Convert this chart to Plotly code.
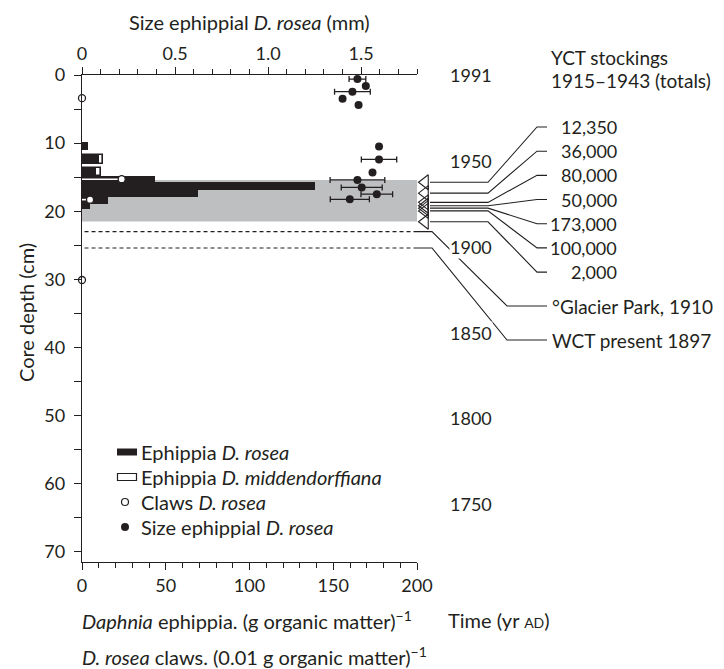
import plotly.graph_objects as go

# ---- values ----
# ephippia counts per depth slice (core depth in cm), (g organic matter)^-1
bin_top = [9.8, 11.7, 13.7, 14.9, 15.65, 16.9, 17.85, 18.9]
bin_bottom = [11.0, 13.0, 14.9, 15.65, 16.9, 17.85, 18.9, 19.6]
eph_rosea = [3.8, 10.2, 8.2, 43.6, 139, 69, 15.7, 4.8]
eph_midd = [0, 12.6, 11.3, 0, 0, 0, 0, 0]

# D. rosea claws, (0.01 g organic matter)^-1
claw_depth = [3.4, 15.3, 18.3, 30.1]
claw_value = [0, 23.7, 4.8, 0]

# size of D. rosea ephippia (mm), mean and error
size_depth = [0.6, 1.6, 2.45, 3.5, 4.4, 10.5, 12.4, 14.3, 15.4, 16.5, 17.5, 18.25]
size_mm = [1.48, 1.525, 1.453, 1.40, 1.486, 1.596, 1.596, 1.561, 1.48, 1.503, 1.584, 1.439]
size_err = [0.045, 0, 0.096, 0, 0, 0, 0.095, 0, 0.147, 0.11, 0.085, 0.105]

# stocking period band and dated horizons (cm)
band = [15.4, 21.5]
horizon_depth = [23.0, 25.4]
horizon_label = ["\u00b0Glacier Park, 1910", "WCT present 1897"]

# YCT stockings
stock_depth = [15.75, 17.35, 18.7, 19.2, 19.55, 19.95, 21.55]
stock_label = ["12,350", "36,000", "80,000", "50,000", "173,000", "100,000", "2,000"]

# time scale
year_depth = [0, 12.6, 25.2, 37.9, 50.3, 63.0]
year_text = ["1991", "1950", "1900", "1850", "1800", "1750"]

depth_ticks = [0, 10, 20, 30, 40, 50, 60, 70]
eph_ticks = [0, 50, 100, 150, 200]
size_ticks = [0, 0.5, 1.0, 1.5]
size_ticktext = ["0", "0.5", "1.0", "1.5"]

legend_names = ["Ephippia <i>D. rosea</i>", "Ephippia <i>D. middendorffiana</i>",
                "Claws <i>D. rosea</i>", "Size ephippial <i>D. rosea</i>"]

# ---- layout geometry (pixels) ----
W, H = 724, 669
ML, MR, MT, MB = 82, 4, 75, 107
PW, PH = W - ML - MR, H - MT - MB
X_END = 417  # right spine
DEPTH_MAX = 71.5
INK = "#231f20"
FONT = "Lato, 'Open Sans', sans-serif"
FS_NUM = 18
FS_TXT = 20
FS_LAB = 19


def px_x(p):
    return (p - ML) / PW


def px_y(p):
    return (MT + PH - p) / PH


def px_depth(p):
    return (p - MT) * DEPTH_MAX / PH


fig = go.Figure()

centers = [(a + b) / 2 for a, b in zip(bin_top, bin_bottom)]
thick = [b - a for a, b in zip(bin_top, bin_bottom)]

fig.add_trace(go.Bar(
    x=eph_midd, y=centers, width=thick, orientation="h", base=0,
    marker=dict(color="white", line=dict(color=INK, width=1.6)),
    name=legend_names[1], showlegend=False,
))
fig.add_trace(go.Bar(
    x=eph_rosea, y=centers, width=thick, orientation="h", base=0,
    marker=dict(color=INK, line=dict(width=0)),
    name=legend_names[0], showlegend=False,
))

# claw stems (white over the black bars)
sx, sy = [], []
for d, v in zip(claw_depth, claw_value):
    sx += [0, v, None]
    sy += [d, d, None]
fig.add_trace(go.Scatter(x=sx, y=sy, mode="lines", line=dict(color="white", width=1.6),
                         showlegend=False, hoverinfo="skip"))
fig.add_trace(go.Scatter(
    x=claw_value, y=claw_depth, mode="markers", cliponaxis=False,
    marker=dict(symbol="circle", size=7, color="white", line=dict(color=INK, width=1.3)),
    name=legend_names[2], showlegend=False,
))

# dated horizons
hx, hy = [], []
for d in horizon_depth:
    hx += [1.5, 200, None]
    hy += [d, d, None]
fig.add_trace(go.Scatter(x=hx, y=hy, mode="lines", line=dict(color=INK, width=1.2, dash="4px,3px"),
                         showlegend=False, hoverinfo="skip"))

fig.add_trace(go.Scatter(
    x=size_mm, y=size_depth, xaxis="x2", mode="markers", cliponaxis=False,
    marker=dict(symbol="circle", size=8, color=INK),
    error_x=dict(type="data", array=size_err, color=INK, thickness=1.3, width=3),
    name=legend_names[3], showlegend=False,
))

# ---- right-hand panel: stockings and horizons ----
fig.add_trace(go.Scatter(
    x=[425] * len(stock_depth), y=stock_depth, xaxis="x4", mode="markers", cliponaxis=False,
    marker=dict(symbol="triangle-left-open", size=13, color=INK, line=dict(width=1.1)),
    showlegend=False, hoverinfo="skip",
))

lab_step = 3.55
stock_lab_depth = [px_depth(127) + lab_step * i for i in range(len(stock_depth))]
hor_lab_depth = [px_depth(306), px_depth(340)]

lx, ly = [], []
for d, ld in zip(stock_depth, stock_lab_depth):
    lx += [430, 488, 537, 547, None]
    ly += [d, d, ld, ld, None]
for d, ld in zip(horizon_depth, hor_lab_depth):
    lx += [X_END, 432, 507, 547, None]
    ly += [d, d, ld, ld, None]
fig.add_trace(go.Scatter(x=lx, y=ly, xaxis="x4", mode="lines", line=dict(color=INK, width=1.1),
                         showlegend=False, hoverinfo="skip"))


def note(x, y, text, xanchor="left", size=FS_TXT, **kw):
    return dict(x=px_x(x), y=px_y(y), xref="paper", yref="paper", text=text, xanchor=xanchor,
                yanchor="middle", showarrow=False, font=dict(size=size), **kw)


ann = []
for t, ld in zip(stock_label, stock_lab_depth):
    ann.append(dict(x=619, y=ld, xref="x4", yref="y", text=t, xanchor="right", yanchor="middle",
                    showarrow=False, font=dict(size=FS_NUM)))
for t, ld in zip(horizon_label, hor_lab_depth):
    ann.append(dict(x=550, y=ld, xref="x4", yref="y", text=t, xanchor="left", yanchor="middle",
                    showarrow=False, font=dict(size=FS_LAB)))
for t, d in zip(year_text, year_depth):
    ann.append(dict(x=449, y=d, xref="x4", yref="y", text=t, xanchor="left", yanchor="middle",
                    showarrow=False, bgcolor="white", borderpad=0, font=dict(size=FS_NUM)))
ann += [
    note(549, 57, "YCT stockings", size=FS_LAB),
    note(549, 80, "1915\u20131943 (totals)", size=FS_LAB),
    note(80, 620, "<i>Daphnia</i> ephippia. (g organic matter)<sup>\u22121</sup>"),
    note(80, 656, "<i>D. rosea</i> claws. (0.01 g organic matter)<sup>\u22121</sup>"),
    note(446, 620, "Time (yr <span style='font-size:14px'>AD</span>)"),
    note(249, 22, "Size ephippial <i>D. rosea</i> (mm)", xanchor="center"),
    note(26, 313, "Core depth (cm)", xanchor="center", textangle=-90),
]

# hand-drawn key (wide swatches as in the original)
row_y = [452, 477, 502, 527]
shapes = [dict(type="rect", xref="x", yref="y", x0=0, x1=200, y0=band[0], y1=band[1],
               fillcolor="#bebfc1", line=dict(width=0), layer="below")]
shapes.append(dict(type="rect", xref="paper", yref="paper", x0=px_x(117), x1=px_x(137),
                   y0=px_y(row_y[0] - 3.5), y1=px_y(row_y[0] + 3.5), fillcolor=INK,
                   line=dict(width=0)))
shapes.append(dict(type="rect", xref="paper", yref="paper", x0=px_x(117.5), x1=px_x(136.5),
                   y0=px_y(row_y[1] - 3.5), y1=px_y(row_y[1] + 3.5), fillcolor="white",
                   line=dict(color=INK, width=1.2)))
shapes.append(dict(type="circle", xref="paper", yref="paper", x0=px_x(121.5), x1=px_x(128.5),
                   y0=px_y(row_y[2] - 3.5), y1=px_y(row_y[2] + 3.5), fillcolor="white",
                   line=dict(color=INK, width=1.2)))
shapes.append(dict(type="circle", xref="paper", yref="paper", x0=px_x(121), x1=px_x(129),
                   y0=px_y(row_y[3] - 4), y1=px_y(row_y[3] + 4), fillcolor=INK,
                   line=dict(width=0)))
for t, ry in zip(legend_names, row_y):
    ann.append(note(139, ry, t))

dom = [0, px_x(X_END)]
axis_common = dict(showgrid=False, zeroline=False, showline=True, linecolor=INK, linewidth=1.3,
                   ticks="outside", tickcolor=INK, tickwidth=1.2, automargin=False,
                   tickfont=dict(size=FS_NUM))

fig.update_layout(
    width=W, height=H, margin=dict(l=ML, r=MR, t=MT, b=MB, autoexpand=False),
    paper_bgcolor="white", plot_bgcolor="white",
    font=dict(family=FONT, size=FS_TXT, color=INK),
    barmode="overlay", bargap=0, showlegend=False,
    shapes=shapes,
    annotations=ann,
    xaxis=dict(axis_common, domain=dom, range=[0, 200], tickvals=eph_ticks, ticklen=7,
               minor=dict(dtick=10, ticklen=5, tickcolor=INK, ticks="outside")),
    xaxis2=dict(axis_common, domain=dom, range=[0, 1.8], overlaying="x", side="top", anchor="y",
                tickvals=size_ticks, ticktext=size_ticktext, ticklen=7,
                minor=dict(dtick=0.1, ticklen=5, tickcolor=INK, ticks="outside")),
    xaxis4=dict(domain=[px_x(X_END), 1], range=[X_END, W - MR], anchor="y", visible=False,
                fixedrange=True),
    yaxis=dict(axis_common, range=[DEPTH_MAX, 0], tickvals=depth_ticks, ticklen=7,
               ticklabelstandoff=5,
               minor=dict(dtick=5, tick0=0, ticklen=7, tickcolor=INK, ticks="outside")),
    yaxis2=dict(axis_common, range=[DEPTH_MAX, 0], overlaying="y", side="right", anchor="x",
                tickvals=year_depth, showticklabels=False, ticklen=8),
)

fig.write_html("out.html", config={"displayModeBar": False},
               post_script="document.body.style.margin='0';")
